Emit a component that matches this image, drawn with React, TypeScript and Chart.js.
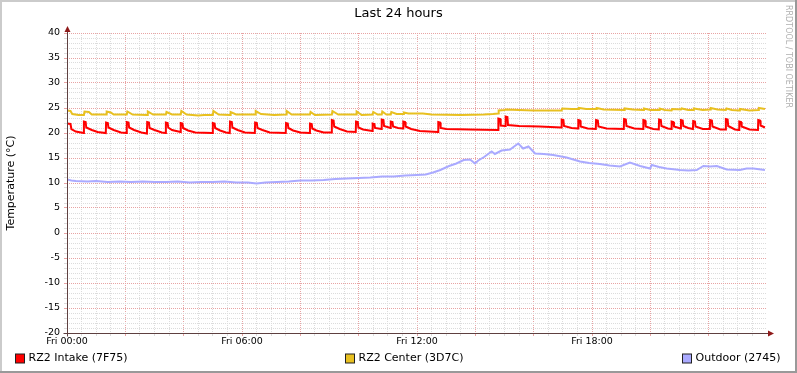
import { useEffect, useRef } from 'react';
import { Chart, registerables } from 'chart.js';

Chart.register(...registerables);

const FONT = "'DejaVu Sans', 'Liberation Sans', sans-serif";

const chartTitle = 'Last 24 hours';
const yAxisTitle = 'Temperature (°C)';
const watermark = 'RRDTOOL / TOBI OETIKER';

const xMin = 0;
const xMax = 24;
const xStep = 0.5;
const xLabelHours = [0, 6, 12, 18];
const xLabelTexts = ['Fri 00:00', 'Fri 06:00', 'Fri 12:00', 'Fri 18:00'];

const yMin = -20;
const yMax = 40;
const yStep = 1;

const seriesNames = ['RZ2 Intake (7F75)', 'RZ2 Center (3D7C)', 'Outdoor (2745)'];
const seriesColors = ['#ff0000', '#e8c020', '#aaaaff'];

// [hour, °C]
const intake: [number, number][] = [
  [0, 21.9], [0.12, 21.8], [0.15, 20.8], [0.3, 20.3], [0.57, 20.0],
  [0.58, 22.3], [0.64, 22.2], [0.66, 21.1], [0.85, 20.6], [1.05, 20.2], [1.33, 20.0],
  [1.34, 22.1], [1.4, 22.0], [1.42, 21.1], [1.6, 20.6], [1.85, 20.1], [2.04, 20.0],
  [2.05, 22.2], [2.11, 22.1], [2.13, 21.1], [2.3, 20.6], [2.55, 20.1], [2.74, 19.9],
  [2.75, 22.2], [2.81, 22.1], [2.83, 21.0], [3.0, 20.6], [3.25, 20.1], [3.38, 20.0],
  [3.39, 22.1], [3.45, 22.0], [3.47, 21.1], [3.6, 20.6], [3.89, 20.2],
  [3.9, 22.0], [3.96, 21.9], [3.98, 21.0], [4.15, 20.5], [4.4, 20.1], [4.99, 20.0],
  [5.0, 22.0], [5.06, 21.9], [5.08, 21.0], [5.25, 20.5], [5.45, 20.1], [5.58, 20.0],
  [5.59, 22.3], [5.65, 22.2], [5.67, 21.1], [5.85, 20.6], [6.1, 20.1], [6.44, 20.0],
  [6.45, 22.1], [6.51, 22.0], [6.53, 21.0], [6.7, 20.6], [6.95, 20.1], [7.5, 20.0],
  [7.51, 22.0], [7.57, 21.9], [7.59, 21.0], [7.75, 20.5], [8.0, 20.1], [8.32, 20.0],
  [8.33, 21.9], [8.39, 21.8], [8.41, 20.9], [8.55, 20.5], [8.8, 20.1], [9.07, 20.1],
  [9.08, 22.6], [9.14, 22.5], [9.16, 21.3], [9.35, 20.8], [9.6, 20.3], [9.9, 20.2],
  [9.91, 22.3], [9.97, 22.2], [9.99, 21.1], [10.15, 20.7], [10.47, 20.4],
  [10.48, 21.9], [10.54, 21.8], [10.56, 21.0], [10.78, 20.8],
  [10.79, 22.7], [10.85, 22.6], [10.87, 21.4], [11.09, 21.0],
  [11.1, 22.3], [11.16, 22.2], [11.18, 21.3], [11.35, 21.0], [11.52, 20.9],
  [11.53, 22.3], [11.59, 22.2], [11.61, 21.3], [11.8, 20.8], [12.1, 20.4], [12.72, 20.2],
  [12.73, 22.2], [12.79, 22.1], [12.81, 21.0], [13.0, 20.8], [13.8, 20.7], [14.78, 20.6],
  [14.79, 22.9], [14.85, 22.8], [14.87, 21.5], [15.03, 21.4],
  [15.04, 23.3], [15.1, 23.2], [15.12, 21.6], [15.5, 21.4], [16.2, 21.3], [16.95, 21.1],
  [16.96, 22.7], [17.02, 22.6], [17.04, 21.4], [17.3, 21.0], [17.52, 20.9],
  [17.53, 22.6], [17.59, 22.5], [17.61, 21.3], [17.85, 20.9], [18.13, 20.8],
  [18.14, 22.6], [18.2, 22.5], [18.22, 21.3], [18.5, 20.9], [19.09, 20.8],
  [19.1, 22.8], [19.16, 22.7], [19.18, 21.4], [19.45, 20.9], [19.75, 20.8],
  [19.76, 22.6], [19.82, 22.5], [19.84, 21.3], [20.1, 20.8], [20.29, 20.7],
  [20.3, 22.7], [20.36, 22.6], [20.38, 21.4], [20.6, 20.9], [20.72, 20.8],
  [20.73, 22.3], [20.79, 22.2], [20.81, 21.3], [21.04, 20.9],
  [21.05, 22.6], [21.11, 22.5], [21.13, 21.4], [21.3, 21.0], [21.46, 20.8],
  [21.47, 22.4], [21.53, 22.3], [21.55, 21.3], [21.8, 20.8], [22.04, 20.8],
  [22.05, 22.6], [22.11, 22.5], [22.13, 21.3], [22.4, 20.7], [22.58, 20.7],
  [22.59, 22.8], [22.65, 22.7], [22.67, 21.4], [22.9, 20.7], [23.04, 20.6],
  [23.05, 22.3], [23.11, 22.2], [23.13, 21.3], [23.4, 20.7], [23.69, 20.6],
  [23.7, 22.6], [23.76, 22.5], [23.78, 21.5], [23.93, 21.1],
];

const center: [number, number][] = [
  [0, 24.5], [0.12, 24.4], [0.18, 23.8], [0.4, 23.6],
  [0.58, 23.6], [0.6, 24.3], [0.75, 24.2], [0.85, 23.7],
  [1.34, 23.7], [1.36, 24.3], [1.5, 24.1], [1.6, 23.7],
  [2.05, 23.7], [2.07, 24.3], [2.25, 23.7],
  [2.75, 23.6], [2.77, 24.3], [2.95, 23.7],
  [3.39, 23.7], [3.41, 24.2], [3.6, 23.7],
  [3.9, 23.7], [3.92, 24.4], [4.1, 23.7],
  [4.5, 23.5], [4.7, 23.6],
  [5.0, 23.6], [5.02, 24.4], [5.2, 23.7],
  [5.59, 23.6], [5.61, 24.2], [5.8, 23.7],
  [6.45, 23.7], [6.47, 24.4], [6.65, 23.8],
  [7.1, 23.6],
  [7.51, 23.7], [7.53, 24.4], [7.7, 23.7],
  [8.33, 23.7], [8.35, 24.2], [8.5, 23.6],
  [9.08, 23.7], [9.1, 24.4], [9.3, 23.7],
  [9.91, 23.7], [9.93, 24.3], [10.1, 23.6],
  [10.48, 23.7], [10.5, 24.2], [10.65, 23.7],
  [10.79, 23.7], [10.81, 24.3], [10.95, 23.7],
  [11.1, 23.7], [11.12, 24.2], [11.3, 23.8],
  [11.53, 23.8], [11.55, 24.1], [11.7, 23.9],
  [12.2, 23.9], [12.5, 23.7], [13.5, 23.6], [14.3, 23.7], [14.6, 23.8],
  [14.79, 23.9], [14.8, 24.5], [15.0, 24.6], [15.05, 24.7], [15.5, 24.6], [16.0, 24.5], [16.5, 24.5],
  [16.96, 24.5], [16.98, 24.9], [17.3, 24.8], [17.53, 24.8], [17.55, 25.0], [17.8, 24.8],
  [18.14, 24.8], [18.16, 25.0], [18.4, 24.7], [19.1, 24.6], [19.12, 24.9], [19.4, 24.7],
  [19.76, 24.6], [19.78, 24.9], [20.0, 24.6], [20.3, 24.6], [20.32, 24.9], [20.5, 24.6],
  [20.73, 24.5], [20.75, 24.8], [21.05, 24.7], [21.07, 24.9], [21.3, 24.6],
  [21.47, 24.6], [21.49, 24.9], [21.8, 24.6], [22.05, 24.7], [22.07, 25.0], [22.3, 24.7],
  [22.59, 24.6], [22.61, 24.9], [22.8, 24.6], [23.05, 24.5], [23.07, 24.8], [23.4, 24.5],
  [23.7, 24.6], [23.72, 25.0], [23.93, 24.8],
];

const outdoor: [number, number][] = [
  [0, 10.7], [0.15, 10.5], [0.3, 10.4], [0.7, 10.3], [1.0, 10.4], [1.4, 10.2],
  [1.8, 10.3], [2.2, 10.2], [2.6, 10.3], [3.0, 10.2], [3.4, 10.2], [3.8, 10.3],
  [4.2, 10.1], [4.6, 10.2], [5.0, 10.2], [5.4, 10.3], [5.8, 10.1], [6.2, 10.1],
  [6.5, 9.9], [6.8, 10.1], [7.2, 10.2], [7.6, 10.3], [8.0, 10.5], [8.4, 10.5],
  [8.8, 10.6], [9.2, 10.8], [9.6, 10.9], [10.0, 11.0], [10.4, 11.1], [10.8, 11.3],
  [11.2, 11.3], [11.6, 11.5], [12.0, 11.6], [12.3, 11.7], [12.55, 12.1], [12.8, 12.6],
  [13.1, 13.4], [13.35, 13.9], [13.6, 14.6], [13.82, 14.7], [13.99, 13.9], [14.1, 14.5],
  [14.3, 15.2], [14.56, 16.3], [14.67, 15.8], [14.9, 16.5], [15.19, 16.7], [15.47, 17.9],
  [15.64, 16.9], [15.82, 17.3], [16.05, 15.9], [16.35, 15.8], [16.67, 15.6], [17.13, 15.1],
  [17.59, 14.3], [17.9, 14.0], [18.27, 13.8], [18.6, 13.5], [18.96, 13.3], [19.3, 14.1],
  [19.65, 13.4], [19.99, 12.9], [20.05, 13.6], [20.3, 13.2], [20.56, 12.9], [21.02, 12.6],
  [21.3, 12.5], [21.59, 12.6], [21.82, 13.4], [22.05, 13.3], [22.28, 13.4], [22.62, 12.7],
  [23.07, 12.6], [23.3, 12.9], [23.53, 12.9], [23.93, 12.6],
];

const seriesData = [intake, center, outdoor];

const MINOR_GRID = '#dcdcdc';
const MAJOR_GRID = '#e8a4a4';
const AXIS_COLOR = '#5e4040';
const ARROW_COLOR = '#8f1a1a';

const legendSquareX = [15, 345, 682];

const decorPlugin = {
  id: 'rrdDecor',
  beforeDraw(chart: any) {
    const { ctx, width, height } = chart;
    ctx.save();
    ctx.fillStyle = '#ffffff';
    ctx.fillRect(0, 0, width, height);
    ctx.fillStyle = '#cbcbcb';
    ctx.fillRect(0, 0, width, 2);
    ctx.fillRect(0, 0, 2, height);
    ctx.fillStyle = '#999999';
    ctx.fillRect(0, height - 2, width, 2);
    ctx.fillRect(width - 2, 0, 2, height);
    ctx.restore();
  },
  afterDraw(chart: any) {
    const { ctx, chartArea: a } = chart;
    ctx.save();
    // axes
    const ax = Math.round(a.left) + 0.5;
    const ay = Math.round(a.bottom) + 0.5;
    ctx.strokeStyle = AXIS_COLOR;
    ctx.lineWidth = 1;
    ctx.beginPath();
    ctx.moveTo(ax, ay + 3);
    ctx.lineTo(ax, a.top - 4);
    ctx.moveTo(ax - 4, ay);
    ctx.lineTo(a.right + 2, ay);
    ctx.stroke();
    ctx.fillStyle = ARROW_COLOR;
    ctx.beginPath();
    ctx.moveTo(ax, a.top - 7);
    ctx.lineTo(ax - 3, a.top - 1);
    ctx.lineTo(ax + 3, a.top - 1);
    ctx.closePath();
    ctx.fill();
    ctx.beginPath();
    ctx.moveTo(a.right + 7, ay);
    ctx.lineTo(a.right + 1, ay - 3);
    ctx.lineTo(a.right + 1, ay + 3);
    ctx.closePath();
    ctx.fill();

    // title
    ctx.fillStyle = '#000000';
    ctx.font = `13px ${FONT}`;
    ctx.textAlign = 'center';
    ctx.textBaseline = 'middle';
    ctx.fillText(chartTitle, chart.width / 2, 14);

    // watermark
    ctx.save();
    ctx.translate(chart.width - 8.5, 56.5);
    ctx.rotate(Math.PI / 2);
    ctx.fillStyle = '#b0b0b0';
    ctx.font = `8px ${FONT}`;
    ctx.fillText(watermark, 0, 0);
    ctx.restore();

    // legend
    ctx.font = `11px ${FONT}`;
    ctx.textAlign = 'left';
    ctx.textBaseline = 'middle';
    const ly = 358.5;
    seriesNames.forEach((name, i) => {
      const sx = legendSquareX[i];
      ctx.fillStyle = seriesColors[i];
      ctx.fillRect(sx + 0.5, ly - 4.5, 9, 9);
      ctx.strokeStyle = '#202020';
      ctx.lineWidth = 1;
      ctx.strokeRect(sx + 0.5, ly - 4.5, 9, 9);
      ctx.fillStyle = '#000000';
      ctx.fillText(name, sx + 13.5, ly);
    });
    ctx.restore();
  },
};

export default function App() {
  const canvasRef = useRef<HTMLCanvasElement | null>(null);

  useEffect(() => {
    const canvas = canvasRef.current;
    if (!canvas) return;
    const chart = new Chart(canvas, {
      type: 'line',
      data: {
        datasets: seriesData.map((d, i) => ({
          label: seriesNames[i],
          data: d.map(([x, y]) => ({ x, y })),
          borderColor: seriesColors[i],
          backgroundColor: seriesColors[i],
          borderWidth: 2,
          pointRadius: 0,
          tension: 0,
          fill: false,
        })),
      },
      options: {
        animation: false,
        responsive: false,
        devicePixelRatio: 1,
        events: [],
        layout: { padding: { top: 33, right: 30, bottom: 20, left: 0 } },
        plugins: {
          legend: { display: false },
          title: { display: false },
          tooltip: { enabled: false },
        },
        scales: {
          x: {
            type: 'linear',
            min: xMin,
            max: xMax,
            afterFit: (scale: any) => {
              scale.height = 20;
            },
            ticks: {
              stepSize: xStep,
              autoSkip: false,
              maxRotation: 0,
              padding: 0,
              color: '#000000',
              font: { family: FONT, size: 9.5 },
              callback: (v: any) => {
                const idx = xLabelHours.indexOf(Number(v));
                return idx >= 0 ? xLabelTexts[idx] : '';
              },
            },
            grid: {
              drawTicks: true,
              tickLength: 3,
              lineWidth: 1,
              color: (c: any) => {
                const v = c.tick ? c.tick.value : 0;
                if (v >= xMax) return 'rgba(0,0,0,0)';
                return v % 2 === 0 ? MAJOR_GRID : MINOR_GRID;
              },
            },
            border: { display: false, dash: [1, 1] },
          },
          y: {
            type: 'linear',
            min: yMin,
            max: yMax,
            afterFit: (scale: any) => {
              scale.width = 67;
            },
            title: {
              display: true,
              text: yAxisTitle,
              color: '#000000',
              font: { family: FONT, size: 11 },
              padding: { top: 4.5, bottom: 0 },
            },
            ticks: {
              stepSize: yStep,
              autoSkip: false,
              padding: 4,
              color: '#000000',
              font: { family: FONT, size: 9.5 },
              callback: (v: any) => (Number(v) % 5 === 0 ? String(v) : ''),
            },
            grid: {
              drawTicks: true,
              tickLength: 3,
              lineWidth: 1,
              color: (c: any) => {
                const v = c.tick ? c.tick.value : 0;
                return v % 5 === 0 ? MAJOR_GRID : MINOR_GRID;
              },
            },
            border: { display: false, dash: [1, 1] },
          },
        },
      },
      plugins: [decorPlugin],
    });
    return () => chart.destroy();
  }, []);

  return (
    <div style={{ position: 'fixed', left: 0, top: 0, width: 797, height: 373 }}>
      <canvas ref={canvasRef} width={797} height={373} style={{ display: 'block' }} />
    </div>
  );
}
